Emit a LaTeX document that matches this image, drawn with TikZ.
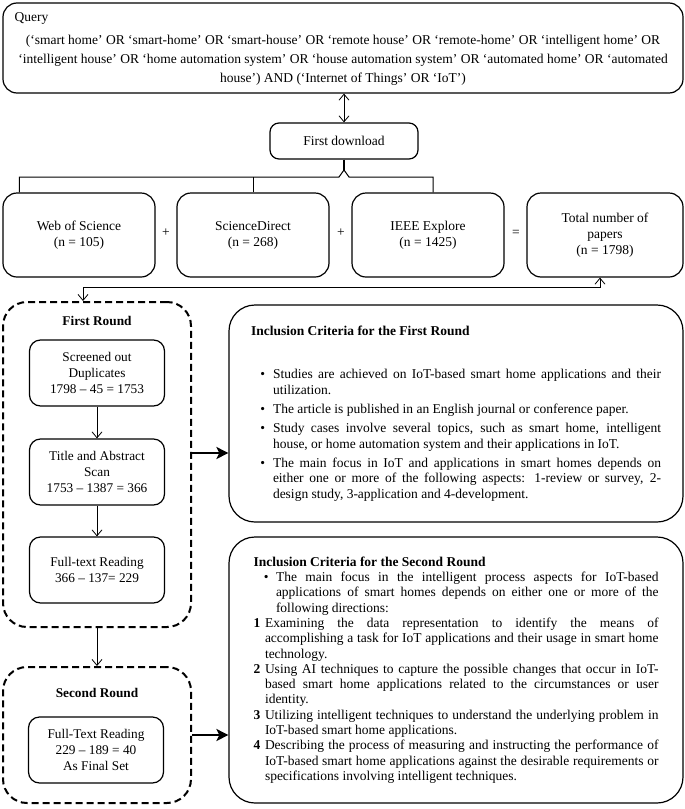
\documentclass[tikz,border=0pt]{standalone}
\usepackage{fontspec}
\setmainfont{Liberation Serif}[WordSpace={1,2,0}]
\usepackage{enumitem}
\usetikzlibrary{arrows.meta,positioning}
\hyphenpenalty=10000

\begin{document}
\begin{tikzpicture}[x=1pt, y=-1pt,
  every node/.style={font=\fontsize{13.5}{16}\selectfont, inner sep=2pt},
  box/.style={draw, line width=1.2pt, rounded corners=9pt, align=center},
  dbbox/.style={box, rounded corners=14pt, minimum width=152pt, minimum height=84pt},
  stepbox/.style={box, rounded corners=11pt, minimum width=135pt, minimum height=66pt, font=\fontsize{13.3}{15.7}\selectfont},
  roundbox/.style={draw, line width=2pt, dash pattern=on 7pt off 4pt, rounded corners=24pt},
  roundtitle/.style={font=\bfseries\fontsize{13.3}{16}\selectfont},
  critbox/.style={draw, line width=1.2pt, rounded corners=26pt, align=justify, font=\fontsize{13.5}{15.3}\selectfont},
  arrow/.style={-{Straight Barb[length=6pt,width=10pt]}, line width=0.8pt},
  dblarrow/.style={{Straight Barb[length=6pt,width=10pt]}-{Straight Barb[length=6pt,width=10pt]}, line width=0.8pt},
  bigarrow/.style={-{Stealth[length=12pt,width=12pt,inset=3pt]}, line width=2.6pt}
]
  \useasboundingbox (0,0) rectangle (685,809);
  % query and first download
  \node[box, rounded corners=14pt, minimum width=680pt, minimum height=90pt] (q) at (343,48) {};
  \node[anchor=north west] (qlab) at ([shift={(10pt,-8pt)}]q.north west) {Query};
  \node[align=center, font=\fontsize{13.5}{19}\selectfont] (qtxt) at (343,60)
    {(‘smart home’ OR ‘smart-home’ OR ‘smart-house’ OR ‘remote house’ OR ‘remote-home’ OR ‘intelligent home’ OR\\
     ‘intelligent house’ OR ‘home automation system’ OR ‘house automation system’ OR ‘automated home’ OR ‘automated\\
     house’) AND (‘Internet of Things’ OR ‘IoT’)};
  \node[box, minimum width=148pt, minimum height=36pt] (fd) at (344,141) {First download};

  % databases
  \node[dbbox] (wos) at (79,235) {Web of Science\\(n = 105)};
  \node[dbbox] (sd) at (253,235) {ScienceDirect\\(n = 268)};
  \node[dbbox] (ieee) at (428,235) {IEEE Explore\\(n = 1425)};
  \node[dbbox, minimum width=156pt] (tot) at (605,235) {Total number of\\papers\\(n = 1798)};
  \node (p1) at (166,233) {+};
  \node (p2) at (341,233) {+};
  \node (eq) at (516,233) {=};

  % rounds
  \node[roundbox, minimum width=188pt, minimum height=325pt] (r1) at (97,464.5) {};
  \node[roundtitle] (r1t) at (97,321) {First Round};
  \node[stepbox] (s1) at (97,373) {Screened out\\Duplicates\\1798 – 45 = 1753};
  \node[stepbox] (s2) at (97,472) {Title and Abstract\\Scan\\1753 – 1387 = 366};
  \node[stepbox] (s3) at (97,570) {Full-text Reading\\366 – 137= 229};
  \node[roundbox, minimum width=188pt, minimum height=136pt] (r2) at (97,735) {};
  \node[roundtitle] (r2t) at (97,693) {Second Round};
  \node[stepbox] (f1) at (96,750) {Full-Text Reading\\229 – 189 = 40\\As Final Set};

  % criteria
  \node[critbox, text width=410pt, inner xsep=22pt, minimum height=217pt] (c1) at (456,413.5) {%
    \textbf{Inclusion Criteria for the First Round}\par\vspace{28pt}
    \begin{itemize}[nosep, leftmargin=22pt, labelsep=8pt, itemsep=4pt]
    \item Studies are achieved on IoT-based smart home applications and their utilization.
    \item The article is published in an English journal or conference paper.
    \item Study cases involve several topics, such as smart home, intelligent house, or home automation system and their applications in IoT.
    \item The main focus in IoT and applications in smart homes depends on either one or more of the following aspects: 1-review or survey, 2-design study, 3-application and 4-development.
    \end{itemize}};
  \node[critbox, text width=405pt, inner xsep=24.5pt, minimum height=266pt] (c2) at (456,670) {%
    \textbf{Inclusion Criteria for the Second Round}
    \begin{itemize}[nosep, leftmargin=22.5pt, labelsep=7.5pt]
    \item The main focus in the intelligent process aspects for IoT-based applications of smart homes depends on either one or more of the following directions:
    \end{itemize}
    \begin{enumerate}[nosep, leftmargin=11.5pt, labelwidth=7pt, labelsep=4.5pt, align=left, label=\textbf{\arabic*}]
    \item Examining the data representation to identify the means of accomplishing a task for IoT applications and their usage in smart home technology.
    \item Using AI techniques to capture the possible changes that occur in IoT-based smart home applications related to the circumstances or user identity.
    \item Utilizing intelligent techniques to understand the underlying problem in IoT-based smart home applications.
    \item Describing the process of measuring and instructing the performance of IoT-based smart home applications against the desirable requirements or specifications involving intelligent techniques.
    \end{enumerate}};

  % connectors
  \draw[dblarrow] (fd.north |- q.south) -- (fd.north);
  \coordinate (br) at (344,170);
  \coordinate (bl) at (339,177);
  \coordinate (bR) at (349,177);
  \draw[line width=1.2pt] (fd.south) -- (br);
  \draw[line width=1pt] ([xshift=17pt]wos.north west) |- (bl) -- (br) -- (bR) -| ([xshift=5pt]ieee.north);
  \draw[line width=1pt] (sd.north) -- (sd.north |- bl);
  \coordinate (lk) at (83,287);
  \draw[dblarrow] ([xshift=-5pt]tot.south) |- (lk) -- (lk |- r1.north);
  \foreach \a/\b in {s1/s2,s2/s3} \draw[arrow] (\a) -- (\b);
  \draw[arrow] (r1) -- (r2);
  \coordinate (ya) at (0,453);
  \draw[bigarrow] (r1.east |- ya) -- (c1.west |- ya);
  \draw[bigarrow] (r2.east) -- (r2.east -| c2.west);
\end{tikzpicture}
\end{document}
